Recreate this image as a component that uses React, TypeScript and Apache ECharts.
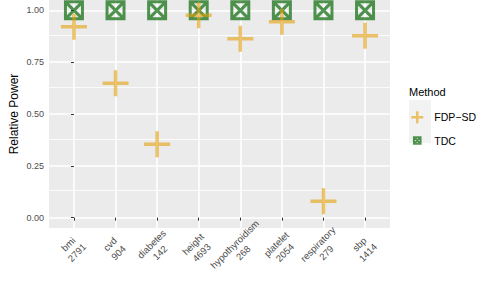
import React, { useEffect, useRef } from "react";
import * as echarts from "echarts";

const categories = ["bmi", "cvd", "diabetes", "height", "hypothyroidism", "platelet", "respiratory", "sbp"];
const sampleSizes = [2791, 904, 142, 4693, 268, 2054, 279, 1414];
const fdpSdValues = [0.921, 0.648, 0.354, 0.976, 0.863, 0.945, 0.079, 0.878];
const tdcValues = [1, 1, 1, 1, 1, 1, 1, 1];
const yTicks = [0, 0.25, 0.5, 0.75, 1];
const yMinorTicks = [0.125, 0.375, 0.625, 0.875];
const seriesNames = ["FDP\u2212SD", "TDC"];

const PLUS = "path://M0,-1L0,1M-1,0L1,0";
const SQUARE_CROSS = "path://M-1,-1L1,-1L1,1L-1,1ZM-1,-1L1,1M1,-1L-1,1";
const SQUARE_CROSS_LEGEND =
  "path://M-1.8,-1.8L-1.8,-1.8M1.8,1.8L1.8,1.8M-1,-1L1,-1L1,1L-1,1ZM-1,-1L1,1M1,-1L-1,1";

const FONT = "'Liberation Sans', Arial, Helvetica, sans-serif";
const ORANGE = "rgba(228,160,10,0.75)";
const GREEN = "rgba(0,100,0,0.85)";

export default function App() {
  const ref = useRef<HTMLDivElement>(null);
  useEffect(() => {
    document.body.style.margin = "0";
    if (!ref.current) return;
    const chart = echarts.init(ref.current, undefined, { renderer: "svg" });
    const idx = categories.map((_, i) => i);
    chart.setOption({
      animation: false,
      textStyle: { fontFamily: FONT },
      grid: {
        left: 43,
        right: 95,
        top: 0,
        bottom: 75,
        show: true,
        backgroundColor: "#EBEBEB",
        borderWidth: 0,
      },
      xAxis: {
        type: "value",
        min: -0.6,
        max: 7.6,
        axisLine: { show: false },
        axisTick: { show: true, customValues: idx, length: 3, lineStyle: { color: "#333333", width: 1 } },
        axisLabel: {
          customValues: idx,
          rotate: 45,
          align: "center",
          verticalAlign: "top",
          margin: 2,
          padding: [0, 28, 0, 0],
          fontSize: 9.5,
          lineHeight: 12,
          color: "#4D4D4D",
          fontFamily: FONT,
          formatter: (v: number) => {
            const i = Math.round(v);
            return categories[i] + "\n" + sampleSizes[i];
          },
        },
        splitLine: { show: true, lineStyle: { color: "#FFFFFF", width: 1.6 } },
      },
      yAxis: {
        type: "value",
        min: -0.05,
        max: 1.05,
        name: "Relative Power",
        nameLocation: "middle",
        nameGap: 29,
        nameMoveOverlap: false,
        nameTextStyle: { fontSize: 12, color: "#000000", fontFamily: FONT },
        axisLine: { show: false },
        axisTick: { show: true, customValues: yTicks, length: 3, lineStyle: { color: "#333333", width: 1 } },
        axisLabel: {
          customValues: yTicks,
          margin: 5,
          fontSize: 9,
          color: "#4D4D4D",
          fontFamily: FONT,
          formatter: (v: number) => v.toFixed(2),
        },
        splitLine: { show: true, lineStyle: { color: "#FFFFFF", width: 1.6 } },
      },
      legend: {
        orient: "vertical",
        left: 405,
        top: 105,
        itemWidth: 24,
        itemHeight: 12,
        itemGap: 9,
        textStyle: { fontSize: 10.5, color: "#000000", fontFamily: FONT },
        data: [
          { name: seriesNames[0], icon: PLUS, itemStyle: { color: "transparent", borderColor: ORANGE, borderWidth: 2.5 } },
          { name: seriesNames[1], icon: SQUARE_CROSS_LEGEND, itemStyle: { color: "transparent", borderColor: GREEN, borderWidth: 2 } },
        ],
      },
      graphic: [
        {
          type: "rect",
          left: 409,
          top: 100,
          shape: { width: 22, height: 43 },
          style: { fill: "#F2F2F2" },
          z: -1,
        },
        {
          type: "text",
          left: 409,
          top: 86,
          style: { text: "Method", fontSize: 11, fill: "#000000", fontFamily: FONT },
        },
      ],
      series: [
        {
          name: "minor",
          type: "scatter",
          data: [],
          silent: true,
          markLine: {
            z: 1,
            silent: true,
            symbol: "none",
            label: { show: false },
            lineStyle: { color: "#FFFFFF", width: 0.8, type: "solid" },
            data: yMinorTicks.map((v) => ({ yAxis: v })),
          },
        },
        {
          name: seriesNames[1],
          type: "scatter",
          z: 2,
          symbol: SQUARE_CROSS,
          symbolSize: 17,
          itemStyle: { color: "transparent", borderColor: GREEN, borderWidth: 3 },
          data: tdcValues.map((v, i) => [i, v]),
        },
        {
          name: seriesNames[0],
          type: "scatter",
          z: 3,
          symbol: PLUS,
          symbolSize: 26,
          itemStyle: { color: "transparent", borderColor: ORANGE, borderWidth: 3.5 },
          data: fdpSdValues.map((v, i) => [i, v]),
        },
      ],
    });
    return () => chart.dispose();
  }, []);
  return <div ref={ref} style={{ width: 485, height: 303 }} />;
}
